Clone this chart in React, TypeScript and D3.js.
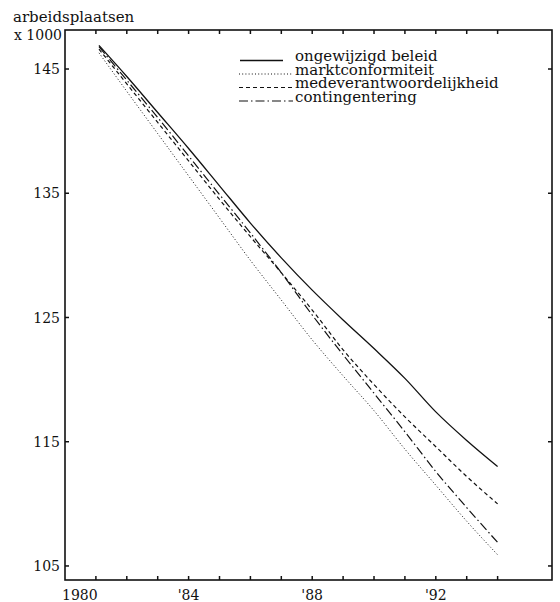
import React from "react";
import * as d3 from "d3";

const years = [1981.1, 1982, 1983, 1984, 1985, 1986, 1987, 1988, 1989, 1990, 1991, 1992, 1993, 1994];
const ongewijzigd = [146.9, 144.4, 141.5, 138.6, 135.6, 132.6, 129.8, 127.2, 124.8, 122.5, 120.1, 117.4, 115.1, 113.0];
const marktconform = [146.3, 143.2, 139.8, 136.4, 133.0, 129.6, 126.4, 123.2, 120.3, 117.5, 114.4, 111.5, 108.6, 105.9];
const medeverantw = [146.6, 143.8, 140.7, 137.6, 134.5, 131.5, 128.6, 125.6, 122.4, 119.6, 117.0, 114.6, 112.2, 110.0];
const contingent = [146.8, 144.1, 141.1, 138.0, 134.9, 131.8, 128.6, 125.2, 122.0, 118.9, 115.8, 112.6, 109.7, 106.9];

const seriesNames = ["ongewijzigd beleid", "marktconformiteit", "medeverantwoordelijkheid", "contingentering"];
const yTicks = [105, 115, 125, 135, 145];
const xTickYears = [1981, 1982, 1983, 1984, 1985, 1986, 1987, 1988, 1989, 1990, 1991, 1992, 1993, 1994];
const xLabels = [
  { year: 1980, text: "1980" },
  { year: 1984, text: "'84" },
  { year: 1988, text: "'88" },
  { year: 1992, text: "'92" },
];

const W = 560;
const H = 602;
const left = 65;
const right = 552;
const top = 30;
const bottom = 580;

const FONT = "'DejaVu Serif', 'Liberation Serif', serif";

export default function App() {
  const x = d3.scaleLinear().domain([1980, 1995.76]).range([left, right]);
  const y = d3.scaleLinear().domain([103.87, 148.14]).range([bottom, top]);

  const styles = [
    { dash: "none", width: 1.3 },
    { dash: "1,2.2", width: 1 },
    { dash: "4,3", width: 1.2 },
    { dash: "9,3,1.5,3", width: 1.2 },
  ];
  const data = [ongewijzigd, marktconform, medeverantw, contingent];

  const line = d3
    .line<[number, number]>()
    .x((d) => x(d[0]))
    .y((d) => y(d[1]))
    .curve(d3.curveMonotoneX);

  const legendTextX = 295;
  const legendY0 = 61;
  const legendDy = 13.5;

  return (
    <svg
      width={W}
      height={H}
      style={{ position: "absolute", left: 0, top: 0, background: "#fff", fontFamily: FONT }}
    >
      <rect x={0} y={0} width={W} height={H} fill="#fff" />
      {/* frame */}
      <rect x={left} y={top} width={right - left} height={bottom - top} fill="none" stroke="#111" strokeWidth={1.6} />

      {/* y ticks */}
      {yTicks.map((t) => (
        <g key={"y" + t}>
          <line x1={left} x2={left + 4} y1={y(t)} y2={y(t)} stroke="#111" strokeWidth={1.5} />
          <line x1={right} x2={right - 4} y1={y(t)} y2={y(t)} stroke="#111" strokeWidth={1.5} />
          <text x={left - 5} y={y(t)} dy="0.36em" textAnchor="end" fontSize={14} fill="#111">
            {t}
          </text>
        </g>
      ))}

      {/* x ticks */}
      {xTickYears.map((t) => (
        <g key={"x" + t}>
          <line x1={x(t)} x2={x(t)} y1={bottom} y2={bottom - 4} stroke="#111" strokeWidth={1.5} />
          <line x1={x(t)} x2={x(t)} y1={top} y2={top + 4} stroke="#111" strokeWidth={1.5} />
        </g>
      ))}
      {xLabels.map((l) => (
        <text
          key={l.text}
          x={l.year === 1980 ? x(l.year) - 3 : x(l.year)}
          y={600}
          textAnchor={l.year === 1980 ? "start" : "middle"}
          fontSize={14}
          fill="#111"
        >
          {l.text}
        </text>
      ))}

      {/* axis title */}
      <text x={13} y={22} fontSize={15} fill="#111">arbeidsplaatsen</text>
      <text x={62} y={40} fontSize={14} fill="#111" textAnchor="end">x 1000</text>

      {/* series */}
      {data.map((vals, i) => (
        <path
          key={seriesNames[i]}
          d={line(years.map((yr, j) => [yr, vals[j]] as [number, number])) || ""}
          fill="none"
          stroke="#111"
          strokeWidth={styles[i].width}
          strokeDasharray={styles[i].dash}
        />
      ))}

      {/* legend */}
      {seriesNames.map((name, i) => {
        const yy = legendY0 + i * legendDy;
        return (
          <g key={"lg" + name}>
            <line
              x1={i === 0 ? 240 : 239}
              x2={i === 0 ? 283 : 293}
              y1={yy - 0.5}
              y2={yy - 0.5}
              stroke="#111"
              strokeWidth={styles[i].width}
              strokeDasharray={styles[i].dash}
            />
            <text x={legendTextX} y={yy} fontSize={15} fill="#111">
              {name}
            </text>
          </g>
        );
      })}
    </svg>
  );
}
